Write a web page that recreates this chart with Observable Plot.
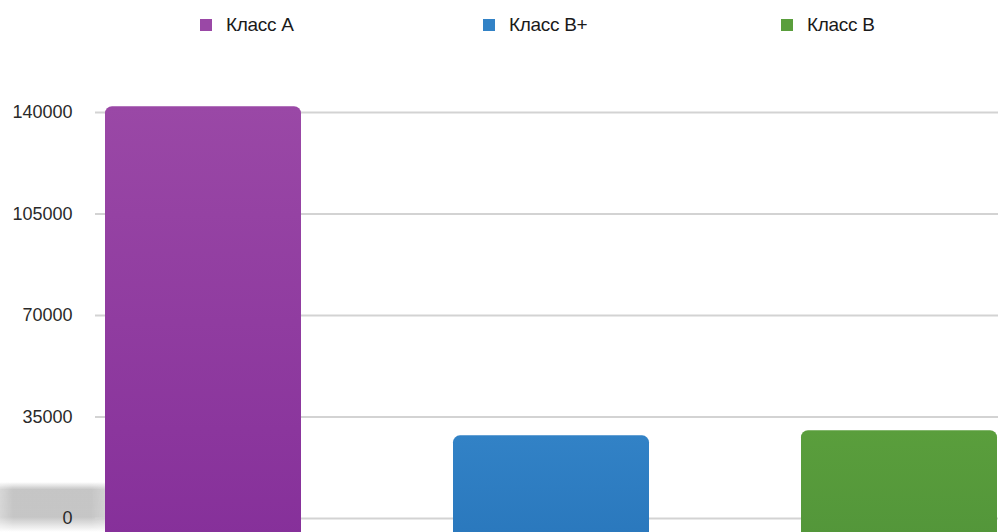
<!DOCTYPE html>
<html>
<head>
<meta charset="utf-8">
<script src="https://cdn.jsdelivr.net/npm/d3@7"></script>
<script src="https://cdn.jsdelivr.net/npm/@observablehq/plot@0.6"></script>
<style>
  html, body { margin: 0; padding: 0; background: #fff; }
  body { width: 998px; height: 532px; overflow: hidden; position: relative; font-family: "Liberation Sans", Arial, sans-serif; }
  #legend { position: relative; height: 50px; }
  .item { position: absolute; top: 14px; font-size: 19px; color: #1a1a1a; display: flex; align-items: center; letter-spacing: -0.3px; }
  .sw { width: 12px; height: 12px; margin-right: 14px; display: inline-block; }
  #floor { position: absolute; left: 0; top: 482px; width: 130px; height: 50px;
    background: linear-gradient(to bottom, rgba(255,255,255,0) 0%, rgba(150,150,150,0.55) 15%, rgba(160,160,160,0.6) 70%, rgba(255,255,255,0.2) 100%);
    -webkit-mask-image: linear-gradient(to right, rgba(0,0,0,0.7) 0%, rgba(0,0,0,1) 10%, rgba(0,0,0,1) 70%, rgba(0,0,0,0.4) 100%);
    mask-image: linear-gradient(to right, rgba(0,0,0,0.7) 0%, rgba(0,0,0,1) 10%, rgba(0,0,0,1) 70%, rgba(0,0,0,0.4) 100%);
  }
  #chart { position: relative; }
</style>
</head>
<body>
<div id="floor"></div>
<div id="legend"></div>
<div id="chart"></div>
<script>
const categories = ["Класс A", "Класс B+", "Класс B"];
const values = [142000, 28500, 30300];
const colors = ["#9a48a6", "#3282c6", "#5a9e3c"];
const colorsDark = ["#86309a", "#2a78bd", "#53963a"];
const yTicks = [0, 35000, 70000, 105000, 140000];
const legendX = [200, 483, 781];

const data = categories.map((c, i) => ({category: c, value: values[i]}));

// legend
const legend = document.getElementById("legend");
categories.forEach((c, i) => {
  const el = document.createElement("div");
  el.className = "item";
  el.style.left = legendX[i] + "px";
  el.innerHTML = `<span class="sw" style="background:${colors[i]}"></span>${c}`;
  legend.appendChild(el);
});

const gradIds = categories.map((c, i) => `grad${i}`);

const chart = Plot.plot({
  width: 998,
  height: 482,
  marginLeft: 95,
  marginRight: 0,
  marginTop: 0,
  marginBottom: 14,
  style: {fontFamily: "'Liberation Sans', Arial, sans-serif", fontSize: "18px", color: "#333", background: "transparent"},
  x: {domain: categories, range: [105, 998], paddingInner: 0.436, paddingOuter: 0, axis: null},
  y: {domain: [0, 140000], range: [468, 62], label: null},
  color: {domain: categories, range: gradIds.map(id => `url(#${id})`)},
  marks: [
    Plot.ruleY(yTicks, {stroke: "#d3d3d3", strokeWidth: 2}),
    Plot.axisY(yTicks, {tickSize: 0, tickPadding: 23, tickFormat: d => String(d), fill: "#2a2a2a", fontSize: 18, label: null}),
    Plot.barY(data, {x: "category", y: "value", fill: "category", rx: 7, insetBottom: -20})
  ]
});

// gradients
const svg = d3.select(chart);
const defs = svg.insert("defs", ":first-child");
categories.forEach((c, i) => {
  const g = defs.append("linearGradient").attr("id", gradIds[i]).attr("x1", 0).attr("y1", 0).attr("x2", 0).attr("y2", 1);
  g.append("stop").attr("offset", "0%").attr("stop-color", colors[i]);
  g.append("stop").attr("offset", "100%").attr("stop-color", colorsDark[i]);
});

document.getElementById("chart").appendChild(chart);
</script>
</body>
</html>
